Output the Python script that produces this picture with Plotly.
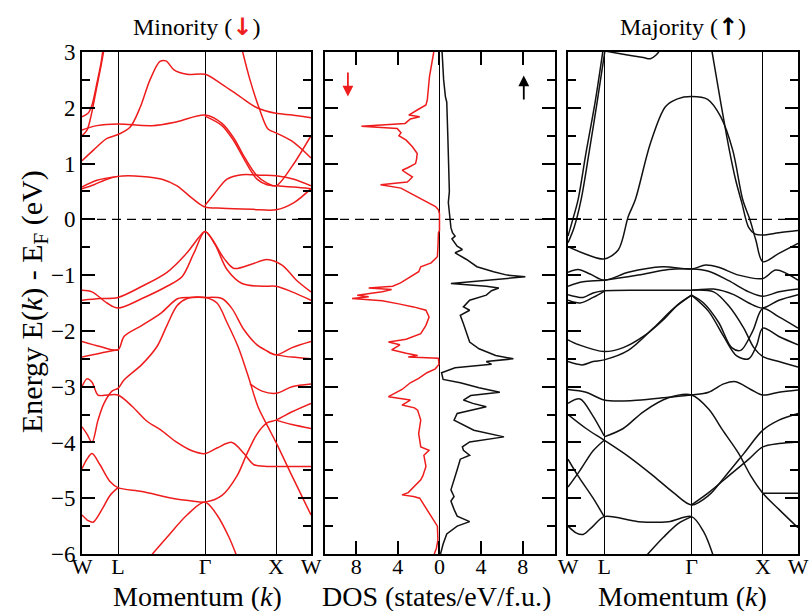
import plotly.graph_objects as go

# ---------------- data ----------------
# k-path positions (arbitrary units) and labels
kpos = [0, 36, 123, 194, 229]
klab = ["W", "L", "Γ", "X", "W"]

# Minority (spin down) bands: lists of (k, E)
dn01 = [(0,1.84),(6,1.9),(10,2.05),(15,2.45),(19,2.8),(21,3.05)]
dn02 = [(0,1.5),(5,1.6),(9,1.85),(14,2.3),(19,2.75),(22,3.05)]
dn03 = [(0,1.05),(12,1.25),(25,1.45),(36,1.52),(48,1.65),(58,2.0),(68,2.5),(78,2.83),(84,2.84),(92,2.68),(105,2.6),(123,2.6),(140,2.42),(158,2.2),(175,2.0),(194,1.9),(210,1.87),(229,1.82)]
dn04 = [(0,1.6),(15,1.68),(36,1.71),(70,1.68),(95,1.75),(123,1.87),(140,1.72),(152,1.45),(163,1.1),(175,0.78),(185,0.65),(194,0.6),(210,0.95),(229,1.5)]
dn05 = [(123,1.85),(140,1.68),(152,1.4),(163,1.05),(175,0.72),(185,0.62),(194,0.6),(212,0.58),(229,0.55)]
dn06 = [(160,3.05),(168,2.5),(178,1.95),(186,1.62),(194,1.55),(210,1.4),(229,1.1)]
dn07 = [(0,0.55),(12,0.62),(25,0.72),(36,0.77),(60,0.77),(80,0.72),(95,0.6),(110,0.38),(123,0.22),(140,0.2),(170,0.18),(194,0.17),(212,0.3),(229,0.55)]
dn08 = [(0,0.58),(15,0.7),(36,0.77)]
dn09 = [(123,0.25),(132,0.45),(145,0.72),(160,0.8),(180,0.79),(194,0.78),(212,0.72),(229,0.6)]
dn10 = [(0,-1.45),(18,-1.42),(36,-1.4),(60,-1.2),(85,-0.95),(105,-0.6),(117,-0.32),(123,-0.22),(130,-0.35),(142,-0.7),(152,-0.88),(170,-0.8),(185,-0.72),(200,-0.82),(215,-1.1),(229,-1.3)]
dn11 = [(0,-1.27),(10,-1.3),(25,-1.5),(36,-1.59),(60,-1.42),(85,-1.2),(100,-1.03),(112,-0.6),(123,-0.22),(133,-0.45),(145,-0.9),(160,-1.15),(180,-1.2),(194,-1.2),(210,-1.3),(229,-1.45)]
dn12 = [(0,-2.19),(18,-2.28),(36,-2.34),(42,-2.1),(60,-1.9),(79,-1.68),(96,-1.42),(110,-1.4),(123,-1.4),(140,-1.42),(150,-1.6),(162,-1.98),(175,-2.25),(183,-2.34),(194,-2.43),(210,-2.3),(229,-2.19)]
dn13 = [(0,-2.47),(18,-2.4),(36,-2.34)]
dn14 = [(194,-2.43),(210,-2.47),(229,-2.5)]
dn15 = [(0,-3.72),(5,-3.85),(10,-4.0),(16,-3.6),(22,-3.3),(30,-3.08),(36,-3.03),(42,-2.88),(60,-2.6),(75,-2.28),(85,-1.9),(95,-1.55),(105,-1.42),(123,-1.4),(135,-1.5),(145,-1.85),(156,-2.28),(166,-2.8),(176,-3.36),(186,-3.72),(194,-4.0),(210,-4.6),(229,-5.3)]
dn16 = [(0,-3.0),(5,-2.86),(10,-2.92),(16,-3.15),(26,-3.15),(36,-3.15),(50,-3.35),(65,-3.62),(79,-3.78),(95,-4.0),(110,-4.15),(123,-4.2),(135,-4.1),(150,-4.0),(162,-4.2),(172,-4.4),(185,-4.43),(194,-4.43),(229,-4.43)]
dn17 = [(0,-4.47),(5,-4.3),(10,-4.2),(18,-4.4),(28,-4.7),(36,-4.81),(60,-4.88),(90,-5.0),(110,-5.05),(123,-5.07),(140,-4.95),(155,-4.6),(165,-4.2),(175,-3.85),(185,-3.65),(194,-3.6),(210,-3.45),(229,-3.3)]
dn18 = [(194,-3.6),(210,-3.68),(229,-3.75)]
dn19 = [(168,-2.95),(180,-3.08),(194,-3.12),(210,-3.0),(229,-2.95)]
dn20 = [(0,-5.3),(6,-5.4),(11,-5.43),(20,-5.2),(28,-4.95),(36,-4.81)]
dn21 = [(68,-6.05),(85,-5.7),(105,-5.3),(123,-5.07),(135,-5.3),(147,-5.7),(155,-6.05)]

# Majority (spin up) bands
up01 = [(0,-0.3),(4,-0.05),(10,0.35),(18,1.2),(27,2.1),(35,3.05)]
up02 = [(0,-0.42),(6,-0.15),(13,0.35),(21,1.2),(29,2.1),(37,3.05)]
up03 = [(0,-0.49),(20,-0.64),(36,-0.71),(50,-0.55),(60,0.05),(67,0.35),(82,1.36),(97,2.02),(109,2.16),(123,2.2),(139,2.15),(152,1.84),(164,1.24),(174,0.35),(181,0.0),(187,-0.37),(194,-0.76),(210,-0.61),(229,-0.43)]
up04 = [(143,3.05),(152,2.1),(160,1.3),(167,0.7),(173,0.3),(180,-0.15),(186,-0.26),(194,-0.28),(210,-0.24),(229,-0.2)]
up05 = [(36,3.02),(55,2.96),(75,2.9),(82,2.88),(88,2.95),(92,3.05)]
up06 = [(0,-0.95),(10,-0.9),(22,-0.98),(36,-1.09),(60,-0.95),(94,-0.85),(123,-0.89),(137,-0.82),(150,-0.86),(170,-1.0),(194,-1.06),(207,-0.91),(229,-1.09)]
up07 = [(0,-1.2),(15,-1.12),(36,-1.09),(70,-1.0),(100,-0.9),(123,-0.89),(140,-0.93),(160,-1.1),(180,-1.3),(194,-1.38),(210,-1.3),(229,-1.25)]
up08 = [(0,-1.35),(15,-1.4),(25,-1.32),(36,-1.28),(80,-1.27),(123,-1.27),(145,-1.25),(165,-1.35),(180,-1.5),(194,-1.59),(210,-1.45),(229,-1.35)]
up09 = [(0,-1.45),(12,-1.5),(25,-1.4),(36,-1.29)]
up10 = [(0,-2.16),(11,-2.25),(36,-2.37),(55,-2.3),(75,-2.1),(95,-1.8),(110,-1.52),(123,-1.36)]
up11 = [(0,-2.55),(14,-2.61),(25,-2.55),(36,-2.52),(60,-2.35),(85,-1.95),(105,-1.6),(123,-1.36)]
up12 = [(123,-1.36),(135,-1.5),(150,-1.85),(163,-2.3),(172,-2.35),(184,-2.0),(194,-1.6),(210,-1.75),(229,-1.95)]
up13 = [(123,-1.36),(140,-1.65),(155,-2.1),(168,-2.45),(180,-2.5),(188,-2.25),(194,-1.95),(210,-2.1),(229,-2.25)]
up14 = [(123,-1.27),(145,-1.3),(160,-1.55),(175,-1.95),(185,-2.3),(194,-2.46),(210,-2.55),(229,-2.65)]
up15 = [(0,-3.05),(18,-3.1),(36,-3.24),(65,-3.25),(94,-3.2),(123,-3.15),(140,-3.1),(155,-2.95),(167,-2.91),(182,-3.05),(194,-3.15),(210,-3.1),(229,-3.06)]
up16 = [(36,-3.9),(55,-3.75),(75,-3.45),(100,-3.2),(123,-3.15),(140,-3.4),(154,-3.78),(170,-4.2),(182,-4.6),(194,-4.91),(210,-5.2),(229,-5.53)]
up17 = [(0,-3.5),(18,-3.75),(36,-3.96),(60,-4.25),(85,-4.6),(105,-4.9),(123,-5.12),(140,-4.95),(155,-4.64),(175,-4.2),(194,-3.78),(210,-3.6),(229,-3.48)]
up18 = [(123,-5.12),(140,-4.9),(160,-4.6),(180,-4.3),(194,-4.08),(210,-4.02),(229,-3.99)]
up19 = [(0,-5.5),(8,-5.62),(15,-5.65),(25,-5.5),(36,-5.33),(70,-5.42),(100,-5.42),(123,-5.33),(135,-5.6),(145,-6.05)]
up20 = [(77,-6.05),(95,-5.7),(110,-5.45),(123,-5.33)]
up21 = [(194,-4.91),(210,-4.91),(229,-4.91)]
up22 = [(0,-4.3),(10,-4.6),(25,-5.0),(36,-5.33)]
up23 = [(0,-4.8),(12,-4.5),(25,-4.15),(36,-3.96)]
up24 = [(0,-3.3),(12,-3.22),(24,-3.5),(36,-3.88)]

# DOS: energies and states/eV/f.u.
dos_dn_E = [3.0,2.56,2.14,2.05,1.96,1.9,1.87,1.84,1.8,1.72,1.67,1.63,1.55,1.5,1.42,1.3,1.18,1.08,1.0,0.93,0.88,0.82,0.76,0.7,0.67,0.62,0.56,0.48,0.4,0.35,0.28,0.23,0.17,0.1,-0.2,-0.24,-0.5,-0.67,-0.78,-0.85,-0.94,-1.05,-1.14,-1.2,-1.23,-1.26,-1.3,-1.36,-1.39,-1.42,-1.46,-1.52,-1.57,-1.63,-1.75,-1.9,-2.05,-2.15,-2.2,-2.25,-2.3,-2.34,-2.4,-2.44,-2.47,-2.49,-2.6,-2.68,-2.75,-2.85,-2.93,-3.05,-3.18,-3.24,-3.33,-3.38,-3.42,-3.6,-3.84,-4.0,-4.08,-4.14,-4.23,-4.43,-4.6,-4.67,-4.82,-4.9,-4.94,-4.97,-5.0,-5.2,-5.35,-5.5,-5.75,-5.9,-6.0]
dos_dn_V = [0.55,0.96,1.17,1.3,2.14,2.6,2.95,1.9,2.8,3.3,7.5,4.06,3.7,3.9,3.2,2.6,2.14,2.2,2.3,3.0,3.58,3.1,2.6,2.9,3.1,5.66,3.7,2.9,2.1,1.5,0.9,0.38,0.1,0.0,0.0,0.1,0.15,0.2,0.8,1.8,2.0,3.0,3.74,4.5,6.8,4.6,5.5,7.9,6.8,8.4,5.5,3.8,2.5,1.3,1.0,1.3,1.8,3.2,4.9,3.8,4.3,4.6,3.2,2.1,3.0,0.1,0.05,0.4,1.2,2.0,2.8,3.6,4.9,2.8,3.6,2.4,2.1,1.8,2.0,1.9,1.8,1.0,1.5,1.3,1.6,1.8,2.6,3.0,3.6,2.5,1.9,1.2,0.7,0.2,0.15,0.3,0.5]
dos_up_E = [3.0,2.5,2.2,2.1,1.5,1.0,0.5,0.3,0.0,-0.15,-0.24,-0.3,-0.35,-0.48,-0.54,-0.6,-0.72,-0.85,-0.94,-1.0,-1.03,-1.08,-1.15,-1.2,-1.23,-1.28,-1.36,-1.45,-1.57,-1.63,-1.72,-1.87,-2.05,-2.2,-2.32,-2.44,-2.5,-2.55,-2.6,-2.66,-2.75,-2.87,-2.93,-3.02,-3.1,-3.16,-3.24,-3.3,-3.36,-3.48,-3.6,-3.78,-3.9,-3.99,-4.08,-4.14,-4.23,-4.3,-4.49,-4.67,-4.85,-4.97,-5.05,-5.2,-5.32,-5.42,-5.5,-5.64,-5.82,-6.0]
dos_up_V = [0.25,0.4,0.57,0.7,0.8,0.9,0.95,0.85,1.0,1.1,1.25,1.5,1.2,1.7,2.2,1.5,2.6,3.6,5.2,6.5,8.25,5.2,1.1,4.5,5.7,5.0,4.5,2.9,2.3,2.9,2.0,2.3,2.6,2.9,3.8,5.4,7.1,4.5,5.0,1.5,0.2,0.35,2.0,3.8,5.8,3.0,2.3,3.2,4.5,1.7,1.4,3.3,6.2,2.9,2.2,2.3,2.9,2.0,1.7,1.4,1.1,1.4,1.1,1.4,1.7,2.9,1.7,0.7,0.35,0.1]

dn_bands = [dn01,dn02,dn03,dn04,dn05,dn06,dn07,dn08,dn09,dn10,dn11,dn12,dn13,dn14,dn15,dn16,dn17,dn18,dn19,dn20,dn21]
up_bands = [up01,up02,up03,up04,up05,up06,up07,up08,up09,up10,up11,up12,up13,up14,up15,up16,up17,up18,up19,up20,up21,up22,up23,up24]

RED = "#ee1c1c"
BLACK = "#111111"
FONT = "Liberation Serif"

fig = go.Figure()
for b in dn_bands:
    fig.add_trace(go.Scatter(x=[p[0] for p in b], y=[p[1] for p in b], mode="lines",
                             line=dict(color=RED, width=1.5, shape="spline", smoothing=0.9),
                             xaxis="x", yaxis="y", showlegend=False, hoverinfo="skip"))
for b in up_bands:
    fig.add_trace(go.Scatter(x=[p[0] for p in b], y=[p[1] for p in b], mode="lines",
                             line=dict(color=BLACK, width=1.5, shape="spline", smoothing=0.9),
                             xaxis="x3", yaxis="y3", showlegend=False, hoverinfo="skip"))
fig.add_trace(go.Scatter(x=[-v for v in dos_dn_V], y=dos_dn_E, mode="lines",
                         line=dict(color=RED, width=1.5), xaxis="x2", yaxis="y2",
                         showlegend=False, hoverinfo="skip"))
fig.add_trace(go.Scatter(x=dos_up_V, y=dos_up_E, mode="lines",
                         line=dict(color=BLACK, width=1.5), xaxis="x2", yaxis="y2",
                         showlegend=False, hoverinfo="skip"))

ytickfont = dict(family=FONT, size=23, color="black")
xtickfont = dict(family=FONT, size=22, color="black")
ymajor = list(range(-6, 4))
yminor = [v + 0.5 for v in range(-6, 3)]

def kaxis(domain, anchor):
    return dict(domain=domain, anchor=anchor, range=[kpos[0], kpos[-1]],
                tickmode="array", tickvals=kpos, ticktext=klab, ticks="",
                showgrid=True, gridcolor="black", gridwidth=1.3,
                showline=True, linecolor="black", linewidth=1.6, mirror=True,
                zeroline=False, tickfont=xtickfont, fixedrange=True,
                ticklabelstandoff=-8)

def eaxis(anchor, labels):
    return dict(anchor=anchor, domain=[0, 1], range=[-6, 3], tickmode="array",
                tickvals=ymajor, ticks="inside", ticklen=13, tickwidth=1.6, tickcolor="black",
                minor=dict(tickmode="array", tickvals=yminor, ticks="inside", ticklen=8,
                           tickwidth=1.6, tickcolor="black"),
                showline=True, linecolor="black", linewidth=1.6, mirror="ticks",
                showgrid=False, zeroline=False, showticklabels=labels, tickfont=ytickfont,
                fixedrange=True)

W, H = 810, 611
ml, mr, mt, mb = 82, 12, 52, 57
pw = W - ml - mr
ph = H - mt - mb
def px(x):
    return (x - ml) / pw
def py(y):
    return (H - mb - y) / ph

layout = dict(
    width=W, height=H, margin=dict(l=ml, r=mr, t=mt, b=mb, autoexpand=False),
    paper_bgcolor="white", plot_bgcolor="white",
    font=dict(family=FONT, color="black"),
    xaxis=kaxis([0, px(311)], "y"),
    xaxis2=dict(domain=[px(325), px(555)], anchor="y2", range=[-11, 11.1],
                tickmode="array", tickvals=[-8, -4, 0, 4, 8], ticktext=["8", "4", "0", "4", "8"],
                ticks="inside", ticklen=13, tickwidth=1.6, tickcolor="black",
                showline=True, linecolor="black", linewidth=1.6, mirror="ticks",
                showgrid=False, zeroline=True, zerolinecolor="black", zerolinewidth=1.3,
                tickfont=xtickfont, fixedrange=True, ticklabelstandoff=-8),
    xaxis3=kaxis([px(568), 1], "y3"),
    yaxis=eaxis("x", True),
    yaxis2=eaxis("x2", False),
    yaxis3=eaxis("x3", False),
)
fig.update_layout(**layout)

# Fermi level dashed lines
for xr, yr in [("x domain", "y"), ("x2 domain", "y2"), ("x3 domain", "y3")]:
    fig.add_shape(type="line", xref=xr, yref=yr, x0=0, x1=1, y0=0, y1=0,
                  line=dict(color="black", width=1.4, dash="9px,6px"))

tfont = dict(family=FONT, size=28, color="black")
ann = [
    dict(text="Minority (<span style='color:%s;font-family:DejaVu Sans'><b>↓</b></span>)" % RED,
         x=px(196), y=py(27), font=dict(family=FONT, size=24, color="black")),
    dict(text="Majority (<span style='font-family:DejaVu Sans'><b>↑</b></span>)",
         x=px(683), y=py(27), font=dict(family=FONT, size=24, color="black")),
    dict(text="Momentum (<i>k</i>)", x=px(197), y=py(596), font=tfont),
    dict(text="DOS (states/eV/f.u.)", x=px(436), y=py(596), font=tfont),
    dict(text="Momentum (<i>k</i>)", x=px(682), y=py(596), font=tfont),
    dict(text="Energy E(<i>k</i>) - E<sub>F</sub> (eV)", x=px(34), y=py(302),
         textangle=-90, font=dict(family=FONT, size=30, color="black")),
]
for a in ann:
    fig.add_annotation(xref="paper", yref="paper", showarrow=False,
                       xanchor="center", yanchor="middle", **a)

# spin arrows in DOS panel
fig.add_annotation(xref="x2", yref="y2", axref="x2", ayref="y2", x=-8.8, y=2.2,
                   ax=-8.8, ay=2.66, showarrow=True, arrowhead=2, arrowsize=1.2,
                   arrowwidth=1.8, arrowcolor=RED, text="")
fig.add_annotation(xref="x2", yref="y2", axref="x2", ayref="y2", x=8.1, y=2.58,
                   ax=8.1, ay=2.12, showarrow=True, arrowhead=2, arrowsize=1.2,
                   arrowwidth=1.8, arrowcolor="black", text="")

fig.write_html("out.html")
